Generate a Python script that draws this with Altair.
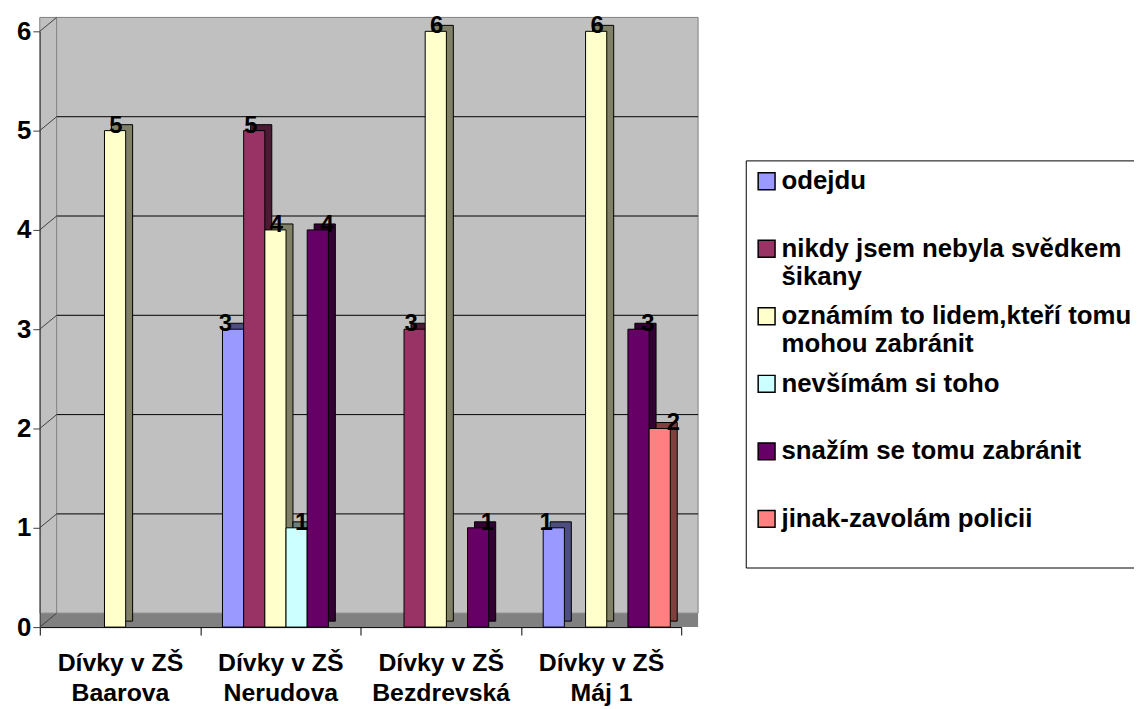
import altair as alt
import pandas as pd

# ---- data ----
schools = ["Dívky v ZŠ Baarova", "Dívky v ZŠ Nerudova", "Dívky v ZŠ Bezdrevská", "Dívky v ZŠ Máj 1"]
series = [
    "odejdu",
    "nikdy jsem nebyla svědkem šikany",
    "oznámím to lidem,kteří tomu mohou zabránit",
    "nevšímám si toho",
    "snažím se tomu zabránit",
    "jinak-zavolám policii",
]
odejdu = [0, 3, 0, 1]
nikdy = [0, 5, 3, 0]
oznamim = [5, 4, 6, 6]
nevsimam = [0, 1, 0, 0]
snazim = [0, 4, 1, 3]
jinak = [0, 0, 0, 2]
y_ticks = [0, 1, 2, 3, 4, 5, 6]
grid_ticks = [1, 2, 3, 4, 5]

# ---- styles ----
front_colors = ["#9999FF", "#993366", "#FFFFCC", "#CCFFFF", "#660066", "#FF8080"]
side_colors = ["#4D4D80", "#4D1A33", "#808066", "#668080", "#330033", "#804040"]
FONT = "Liberation Sans"

all_vals = [odejdu, nikdy, oznamim, nevsimam, snazim, jinak]
rows = []
for s, vals in zip(series, all_vals):
    for sc, v in zip(schools, vals):
        rows.append({"school": sc, "series": s, "value": v})
df = pd.DataFrame(rows)
df = df[df["value"] > 0]

W, H = 646, 600
DX, DY = 17, 14  # wall depth

legend_lines = {
    "nikdy jsem nebyla svědkem šikany": ["nikdy jsem nebyla svědkem", "šikany"],
    "oznámím to lidem,kteří tomu mohou zabránit": ["oznámím to lidem,kteří tomu", "mohou zabránit"],
}
expr = "[datum.label, '']"
for k, (a, b) in legend_lines.items():
    expr = f"datum.label == '{k}' ? ['{a}', '{b}'] : ({expr})"

yenc = alt.Y(
    "value:Q",
    scale=alt.Scale(domain=[0, 6]),
    axis=alt.Axis(
        values=y_ticks, format="d", title=None, labelFont=FONT, labelFontSize=26,
        labelFontWeight="bold", labelColor="black", tickSize=7, tickColor="#404040",
        domainColor="#404040", grid=False, labelPadding=2, zindex=1,
    ),
)

one = pd.DataFrame({"a": [0]})
wall = alt.Chart(one).mark_rect(fill="#C0C0C0", stroke="#808080", strokeWidth=1).encode(
    x=alt.value(0), x2=alt.value(W + DX), y=alt.value(-DY), y2=alt.value(H - DY)
)
floor = alt.Chart(one).mark_rect(fill="#808080").encode(
    x=alt.value(0), x2=alt.value(W + DX), y=alt.value(H - DY), y2=alt.value(H)
)
backedge = alt.Chart(one).mark_rule(color="#808080").encode(
    x=alt.value(DX), y=alt.value(-DY), y2=alt.value(H - DY)
)

tick_df = pd.DataFrame({"value": y_ticks})
grid_df = pd.DataFrame({"value": grid_ticks})
grid = alt.Chart(grid_df).mark_rule(color="black", strokeWidth=1, yOffset=-DY).encode(
    y=yenc, x=alt.value(DX), x2=alt.value(W + DX)
)
diag = alt.Chart(tick_df).mark_rule(color="#404040", strokeWidth=1, y2Offset=-DY).encode(
    y=yenc, y2=alt.Y2("value:Q"), x=alt.value(0), x2=alt.value(DX)
)

xenc = alt.X(
    "school:N",
    sort=schools,
    scale=alt.Scale(paddingInner=0, paddingOuter=0),
    axis=alt.Axis(
        title=None, labelAngle=0, labelFont=FONT, labelFontSize=25, labelFontWeight="bold",
        labelColor="black", tickBand="extent", tickSize=8, tickColor="black", domainColor="black",
        labelPadding=16, labelLineHeight=30, labelBaseline="top", labelLimit=400,
        labelExpr="(datum.label && !datum.extra) ? ['Dívky v ZŠ', slice(datum.label, 11)] : ''",
        zindex=1,
    ),
)

front_range = [22.5, 150.5]
side_range = [29.5, 157.5]

shadow = alt.Chart(df).mark_bar(stroke="black", strokeWidth=1, yOffset=-6, y2Offset=-6).encode(
    x=xenc,
    y=yenc,
    xOffset=alt.XOffset("series:N", sort=series,
                        scale=alt.Scale(domain=series, range=side_range, paddingInner=0, paddingOuter=0)),
    color=alt.Color("series:N", scale=alt.Scale(domain=series, range=side_colors), legend=None),
)

bars = alt.Chart(df).mark_bar(stroke="black", strokeWidth=1, opacity=1).encode(
    x=xenc,
    y=yenc,
    xOffset=alt.XOffset("series:N", sort=series,
                        scale=alt.Scale(domain=series, range=front_range, paddingInner=0, paddingOuter=0)),
    color=alt.Color(
        "series:N",
        scale=alt.Scale(domain=series, range=front_colors),
        legend=alt.Legend(
            orient="none", legendX=711, legendY=130, title=None, direction="vertical",
            labelFont=FONT, labelFontSize=26, labelFontWeight="bold", labelColor="black",
            labelLimit=600, labelExpr=expr, labelBaseline="middle", labelOffset=2,
            symbolType="square", symbolSize=289, symbolStrokeColor="black",
            symbolStrokeWidth=1.5, symbolOpacity=1, padding=8, strokeColor="black",
            fillColor="white", rowPadding=14,
        ),
    ),
)

labels = alt.Chart(df).mark_text(
    font=FONT, fontSize=24, fontWeight="bold", color="black", dx=3, dy=-5, baseline="middle"
).encode(
    x=xenc,
    y=yenc,
    xOffset=alt.XOffset("series:N", sort=series,
                        scale=alt.Scale(domain=series, range=front_range, paddingInner=0, paddingOuter=0)),
    text=alt.Text("value:Q", format="d"),
)

chart = (
    alt.layer(wall, floor, backedge, grid, diag, shadow, bars, labels)
    .resolve_scale(xOffset="independent", color="independent")
    .properties(
        width=W, height=H,
        autosize=alt.AutoSizeParams(type="none"),
        padding={"left": 32, "top": 21, "right": 456, "bottom": 80},
    )
    .configure_view(stroke=None)
    .configure(background="white")
)

chart.save("out.html", embed_options={"renderer": "svg", "actions": False})
